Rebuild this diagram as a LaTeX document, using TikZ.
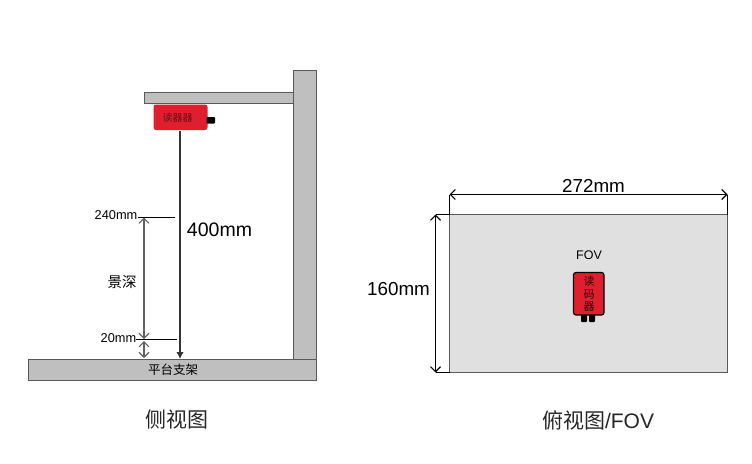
\documentclass[tikz,border=0pt]{standalone}
\usepackage{fontspec}
\setmainfont{Liberation Sans}
\newfontfamily\cjk{Noto Sans CJK SC}
\usetikzlibrary{arrows.meta,positioning}
\definecolor{frameedge}{HTML}{595959}
\definecolor{framefill}{HTML}{BFBFBF}
\definecolor{readerred}{HTML}{DF1F2E}
\definecolor{fovfill}{HTML}{E0E0E0}
\begin{document}
\begin{tikzpicture}
  [x=1pt, y=-1pt,
    frame part/.style={draw=frameedge, fill=framefill, line width=1pt},
    reader box/.style={fill=readerred, rounded corners=2.5pt},
    cable end/.style={fill=black, rounded corners=.8pt},
    dim line/.style={line width=1pt, black},
    dim arrow/.style={line width=1.1pt, {Straight Barb[length=5pt,width=10pt]}-{Straight Barb[length=5pt,width=10pt]}},
    gray arrow/.style={dim arrow, draw=black!62},
    txt/.style={inner sep=0pt, font=\fontsize{#1}{#1}\selectfont}, ]

  \useasboundingbox (0,0) rectangle (752,463);

  % side view
  \draw[frame part] (293.5,70.5) rectangle (316.5,360);
  \draw[frame part] (144.5,92.5) rectangle (293.5,103.5);
  \draw[frame part] (28.5,359.5) rectangle (316.5,380.5);
  \node[txt=12.5] (platform) at (173,370) {\cjk 平台支架};

  \fill[reader box] (153.5,104.5) rectangle (207.5,130) coordinate (readercorner);
  \fill[cable end] (206.5,117) rectangle (215,123.5);
  \node[txt=10, text=black!55!readerred] (reader) at (177.5,117.5) {\cjk 读器器};

  \coordinate (readerlow) at (180,131);
  \coordinate (platformtop) at (180,359);
  \draw[line width=1.1pt, black!80, -{Latex[length=7pt,width=7.5pt]}] (readerlow) -- (platformtop);
  \node[txt=19.5] (dist) at (219.5,230) {400mm};

  \node[txt=12.8] (far) at (116,215.5) {240mm};
  \node[txt=12.8] (near) at (118.5,338.5) {20mm};
  \coordinate (farend) at (175,217);
  \coordinate (nearend) at (177,339.5);
  \draw[dim line] (far.east) ++(0,1.5) coordinate (farstart) -- (farend);
  \draw[dim line] (near.east) ++(0,1) coordinate (nearstart) -- (nearend);

  \coordinate (depthtop) at (144,217.5);
  \coordinate (depthlow) at (144,339);
  \coordinate (gaptop) at (144,341);
  \coordinate (gaplow) at (144,358);
  \draw[gray arrow] (depthtop) -- (depthlow);
  \draw[gray arrow] (gaptop) -- (gaplow);
  \node[txt=14.5] (depth) at (122,282) {\cjk 景深};

  \node[txt=21, text=black!85] (sidecap) at (177,420) {\cjk 侧视图};

  % top view
  \draw[draw=frameedge, fill=fovfill, line width=1pt] (449.5,214.5) rectangle (727.5,372.5);
  \node[txt=12.5] (fov) at (589,255) {FOV};

  \fill[cable end] (581,312) rectangle (587,322);
  \fill[cable end] (589,312) rectangle (595,322);
  \draw[reader box, draw=black, line width=1.2pt] (573.5,272.5) rectangle (604,315);
  \node[inner sep=0pt, align=center, font=\fontsize{11}{12.5}\selectfont\cjk, text=black!85!readerred] (readertop) at (589,294) {读\\码\\器};

  \coordinate (widthl) at (449.5,194.5);
  \coordinate (widthr) at (727.5,194.5);
  \coordinate (heightt) at (435.5,214.5);
  \coordinate (heightb) at (435.5,372.5);
  \draw[dim line] (widthl) -- (449.5,214.5);
  \draw[dim line] (widthr) -- (727.5,214.5);
  \draw[dim line] (heightt) -- (449.5,214.5);
  \draw[dim line] (heightb) -- (449.5,372.5);
  \draw[dim arrow] (widthl) -- (widthr);
  \draw[dim arrow] (heightt) -- (heightb);
  \node[txt=18.8] (widthlab) at (593.5,186) {272mm};
  \node[txt=18.8] (heightlab) at (398.5,289) {160mm};

  \node[txt=21, text=black!85] (topcap) at (598,420.5) {\cjk 俯视图{\rmfamily /FOV}};
\end{tikzpicture}
\end{document}
